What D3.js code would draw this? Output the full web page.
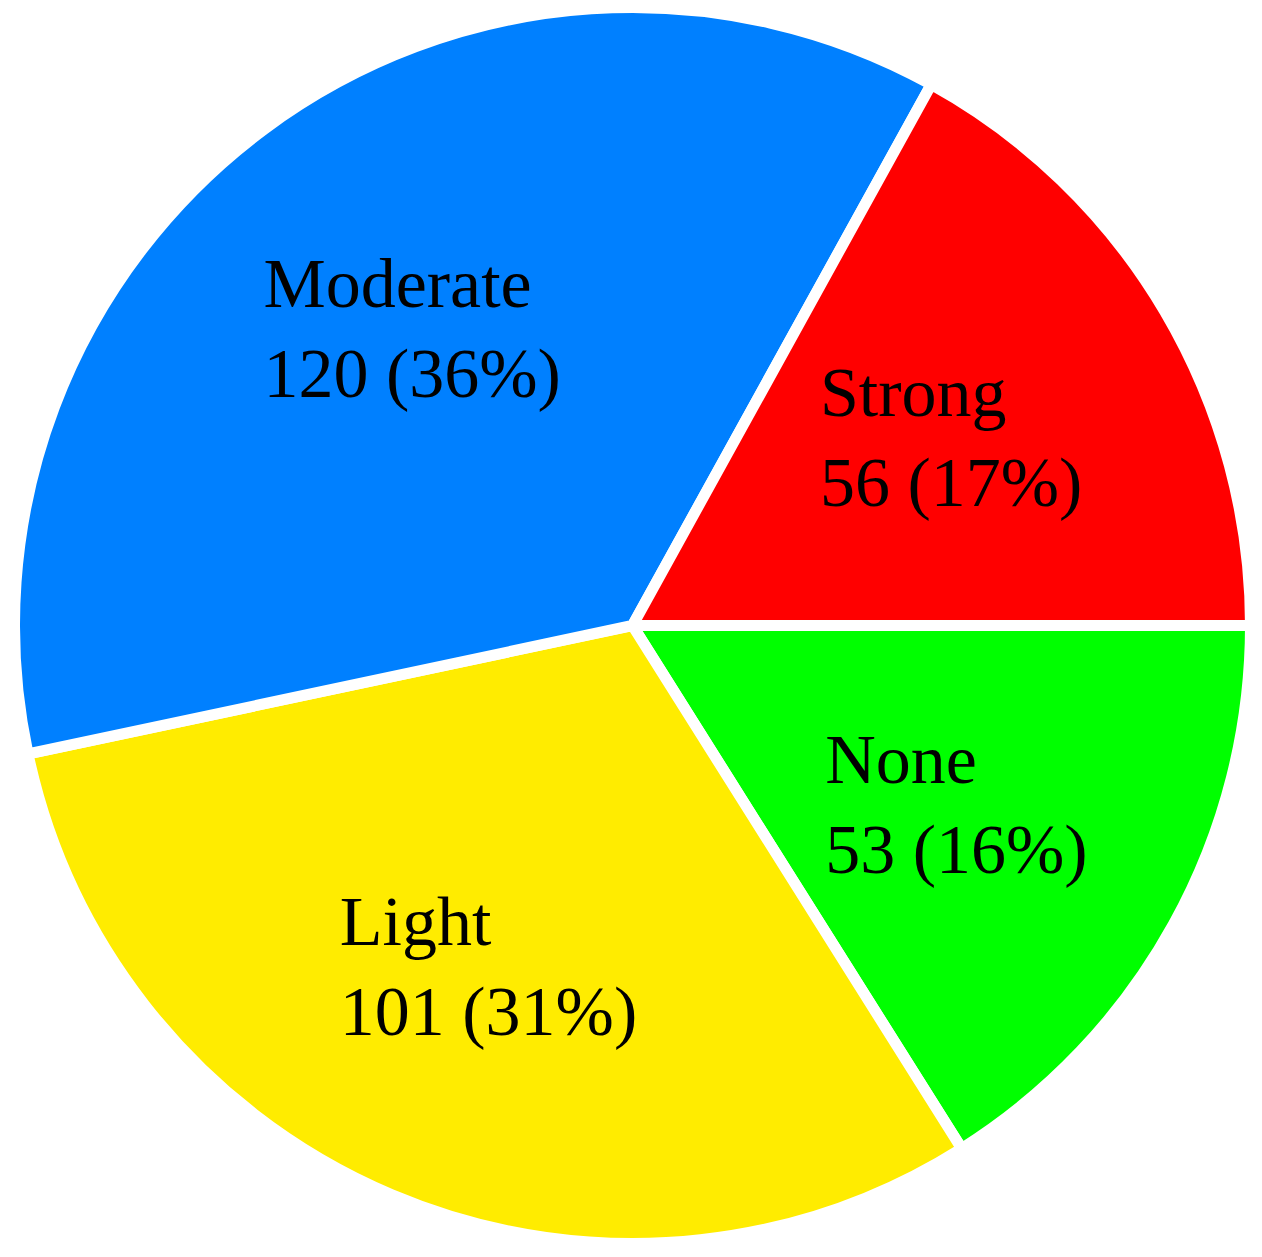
<!DOCTYPE html>
<html>
<head>
<meta charset="utf-8">
<script src="https://cdn.jsdelivr.net/npm/d3@7"></script>
<style>
  html, body { margin: 0; padding: 0; background: #ffffff; }
  svg { display: block; }
</style>
</head>
<body>
<svg id="chart" width="1262" height="1257"></svg>
<script>
// Data (clockwise order starting at 3 o'clock)
const categories = ["None", "Light", "Moderate", "Strong"];
const counts = [53, 101, 120, 56];
const percentLabels = ["16%", "31%", "36%", "17%"];
const colors = ["#00ff00", "#ffec00", "#0080ff", "#ff0000"];

const width = 1262, height = 1257;
const cx = 632.5, cy = 625.5;
const radius = 618;
const labelRadius = 370;
const fontSize = 70;
const lineGap = 90;

const svg = d3.select("#chart");
const g = svg.append("g").attr("transform", `translate(${cx},${cy})`);

const data = categories.map((c, i) => ({ cat: c, value: counts[i], pct: percentLabels[i], color: colors[i] }));

const pie = d3.pie()
  .sort(null)
  .value(d => d.value)
  .startAngle(Math.PI / 2)
  .endAngle(Math.PI / 2 + 2 * Math.PI);

const arc = d3.arc().innerRadius(0).outerRadius(radius);
const labelArc = d3.arc().innerRadius(labelRadius).outerRadius(labelRadius);

const arcs = pie(data);

g.selectAll("path.slice")
  .data(arcs)
  .join("path")
  .attr("class", "slice")
  .attr("d", arc)
  .attr("fill", d => d.data.color)
  .attr("stroke", "#ffffff")
  .attr("stroke-width", 11)
  .attr("stroke-linejoin", "miter");

const labels = g.selectAll("g.label")
  .data(arcs)
  .join("g")
  .attr("class", "label");

labels.each(function(d) {
  const [lx, ly] = labelArc.centroid(d);
  const grp = d3.select(this);
  const t1 = grp.append("text")
    .attr("font-family", "'Liberation Serif', 'Times New Roman', serif")
    .attr("font-size", fontSize)
    .attr("fill", "#000")
    .attr("y", ly - 21)
    .text(d.data.cat);
  const t2 = grp.append("text")
    .attr("font-family", "'Liberation Serif', 'Times New Roman', serif")
    .attr("font-size", fontSize)
    .attr("fill", "#000")
    .attr("y", ly - 21 + lineGap)
    .text(`${d.data.value} (${d.data.pct})`);
  const w = Math.max(t1.node().getComputedTextLength(), t2.node().getComputedTextLength());
  t1.attr("x", lx - w / 2);
  t2.attr("x", lx - w / 2);
});
</script>
</body>
</html>
